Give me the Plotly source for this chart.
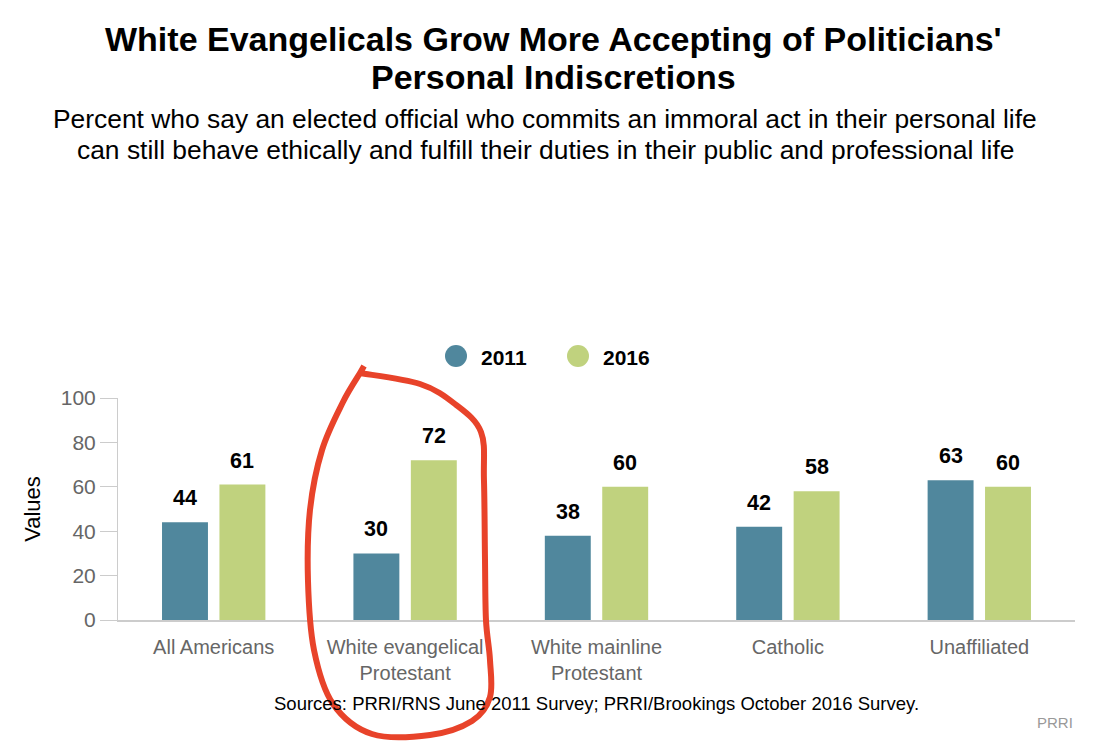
import plotly.graph_objects as go

categories = ["All Americans", "White evangelical<br>Protestant", "White mainline<br>Protestant", "Catholic", "Unaffiliated"]
values_2011 = [44, 30, 38, 42, 63]
values_2016 = [61, 72, 60, 58, 60]
series_names = ["2011", "2016"]
y_ticks = [0, 20, 40, 60, 80, 100]

C2011 = "#50879d"
C2016 = "#c0d27e"

OFF = 8  # default page body margin
W, H = 1100, 748
L, R, T, B = 110, 33, 390, 136
BARGAP = 0.4
font = "Liberation Sans, Arial, sans-serif"


def pg(px, py):
    """page pixel -> paper coords"""
    fx, fy = px - OFF, py - OFF
    return (fx - L) / (W - L - R), (H - B - fy) / (H - T - B)


fig = go.Figure()
for name, vals, col in [(series_names[0], values_2011, C2011), (series_names[1], values_2016, C2016)]:
    fig.add_trace(go.Bar(
        x=categories, y=vals, name=name, marker=dict(color=col, line=dict(width=0)),
        showlegend=False,
    ))

# value labels above bars
slot = (1 - BARGAP) * (W - L - R) / len(categories) / 2
for vals, sgn in [(values_2011, -1), (values_2016, 1)]:
    for c, v in zip(categories, vals):
        fig.add_annotation(x=c, y=v, text="<b>" + str(v) + "</b>", showarrow=False,
                           xshift=sgn * slot / 2, yshift=10, xanchor="center", yanchor="bottom",
                           font=dict(size=21.5, color="#000000", family=font))

# legend (circles + bold labels)
for name, col, cx in [(series_names[0], C2011, 456), (series_names[1], C2016, 578)]:
    x0, y0 = pg(cx - 11, 356 - 11)
    x1, y1 = pg(cx + 11, 356 + 11)
    fig.add_shape(type="circle", xref="paper", yref="paper", x0=x0, x1=x1, y0=y1, y1=y0,
                  fillcolor=col, line=dict(width=0))
    tx, ty = pg(cx + 23, 357)
    fig.add_annotation(text="<b>" + name + "</b>", xref="paper", yref="paper", x=tx, y=ty,
                       xanchor="left", yanchor="middle", showarrow=False,
                       font=dict(size=21, color="#000000", family=font))

# hand-drawn red highlight (smoothed Catmull-Rom curve)
pts = [(360, 373), (420, 384), (455, 404), (481, 432), (484, 480), (485, 560), (486, 620),
       (490, 660), (490, 697), (472, 721), (430, 735), (372, 734), (333, 704), (314, 650),
       (308, 580), (310, 510), (322, 450), (343, 402), (360, 373)]
P = [pg(a, b) for a, b in pts]
path = f"M{P[0][0]:.4f},{P[0][1]:.4f} "
n = len(P)
for i in range(n - 1):
    p0 = P[i - 1] if i > 0 else P[i]
    p1, p2 = P[i], P[i + 1]
    p3 = P[i + 2] if i + 2 < n else P[i + 1]
    c1 = (p1[0] + (p2[0] - p0[0]) / 6, p1[1] + (p2[1] - p0[1]) / 6)
    c2 = (p2[0] - (p3[0] - p1[0]) / 6, p2[1] - (p3[1] - p1[1]) / 6)
    path += f"C{c1[0]:.4f},{c1[1]:.4f} {c2[0]:.4f},{c2[1]:.4f} {p2[0]:.4f},{p2[1]:.4f} "
tx0, ty0 = pg(360, 373)
tx1, ty1 = pg(364, 366)
path += f"L{tx1:.4f},{ty1:.4f}"
fig.add_shape(type="path", path=path, xref="paper", yref="paper",
              line=dict(color="#e8432a", width=6), layer="above")

fig.update_layout(
    width=W, height=H, margin=dict(l=L, r=R, t=T, b=B),
    paper_bgcolor="white", plot_bgcolor="white",
    barmode="group", bargap=BARGAP, bargroupgap=0.2,
    font=dict(family=font),
    showlegend=False,
    xaxis=dict(showline=True, linecolor="#cccccc", linewidth=2, ticks="", ticklabelstandoff=8,
               tickfont=dict(size=20, color="#666666", family=font), fixedrange=True),
    yaxis=dict(range=[0, 100], tickvals=y_ticks, showgrid=False, showline=True, linecolor="#cccccc",
               linewidth=1, ticks="outside", ticklen=17, tickcolor="#cccccc", zeroline=False,
               tickfont=dict(size=21, color="#666666", family=font),
               title=dict(text="Values", font=dict(size=22, color="#000000", family=font), standoff=14)),
)

for txt, yc in [("White Evangelicals Grow More Accepting of Politicians'", 39), ("Personal Indiscretions", 77)]:
    x, y = pg(553, yc)
    fig.add_annotation(text="<b>" + txt + "</b>", xref="paper", yref="paper", x=x, y=y,
                       xanchor="center", yanchor="middle", showarrow=False,
                       font=dict(size=34, color="#000000", family=font))
for txt, yc in [("Percent who say an elected official who commits an immoral act in their personal life", 119),
                ("can still behave ethically and fulfill their duties in their public and professional life", 150)]:
    x, y = pg(545, yc)
    fig.add_annotation(text=txt, xref="paper", yref="paper", x=x, y=y,
                       xanchor="center", yanchor="middle", showarrow=False,
                       font=dict(size=26.4, color="#000000", family=font))

x, y = pg(596, 703)
fig.add_annotation(text="Sources: PRRI/RNS June 2011 Survey; PRRI/Brookings October 2016 Survey.",
                   xref="paper", yref="paper", x=x, y=y, xanchor="center", yanchor="middle", showarrow=False,
                   font=dict(size=18.5, color="#000000", family=font))
x, y = pg(1075, 722)
fig.add_annotation(text="PRRI", xref="paper", yref="paper", x=x, y=y,
                   xanchor="right", yanchor="middle", showarrow=False,
                   font=dict(size=15, color="#999999", family=font))

fig.write_html("out.html")
